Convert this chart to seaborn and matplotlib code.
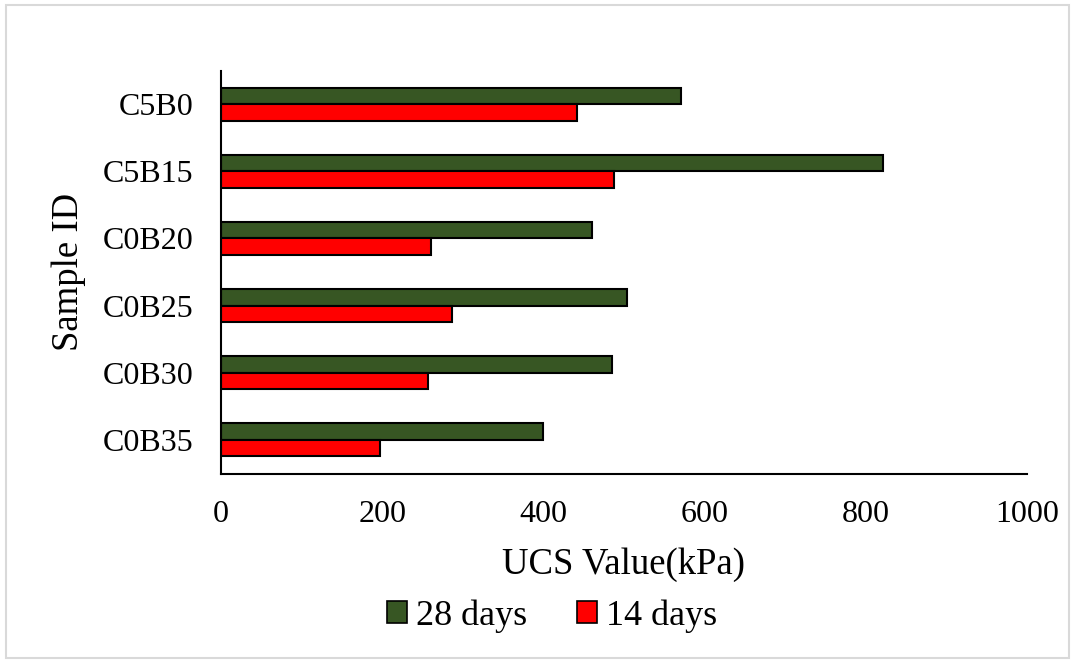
import matplotlib
matplotlib.use("Agg")
import matplotlib.pyplot as plt
from matplotlib.patches import Rectangle, Patch
import seaborn as sns
import pandas as pd

samples = ["C5B0", "C5B15", "C0B20", "C0B25", "C0B30", "C0B35"]
ucs_28 = [571, 821, 460, 504, 485, 400]
ucs_14 = [442, 487, 260, 286, 257, 197]
series = ["28 days", "14 days"]
colors = ["#375623", "#ff0000"]
x_ticks = [0, 200, 400, 600, 800, 1000]

df = pd.DataFrame({
    "Sample ID": samples * 2,
    "UCS": ucs_28 + ucs_14,
    "Age": [series[0]] * len(samples) + [series[1]] * len(samples),
})

sns.set_theme(style="white")
plt.rcParams["font.family"] = ["Liberation Serif", "DejaVu Serif"]
plt.rcParams["text.color"] = "black"
plt.rcParams["axes.labelcolor"] = "black"

fig = plt.figure(figsize=(10.72, 6.6), dpi=100)
ax = fig.add_axes([221 / 1072, 1 - 473.5 / 660, (1027 - 221) / 1072, (473.5 - 70.5) / 660])

sns.barplot(data=df, y="Sample ID", x="UCS", hue="Age", hue_order=series,
            palette=colors, saturation=1, order=samples, orient="h", width=0.49,
            edgecolor="black", linewidth=1.5, ax=ax, legend=False)

ax.set_xlim(0, 1000)
ax.set_xticks(x_ticks)
ax.set_xticklabels([str(t) for t in x_ticks])
ax.tick_params(axis="x", length=0, pad=19, labelsize=23, colors="black")
ax.tick_params(axis="y", length=0, pad=20, labelsize=23, colors="black")
ax.set_xlabel("UCS Value(kPa)", fontsize=26.5, color="black", labelpad=13)
ax.set_ylabel("Sample ID", fontsize=26.5, color="black", labelpad=12)

for side in ["top", "right"]:
    ax.spines[side].set_visible(False)
for side in ["left", "bottom"]:
    ax.spines[side].set_color("black")
    ax.spines[side].set_linewidth(1.5)

handles = [Patch(facecolor=c, edgecolor="black", linewidth=1.2, label=s)
           for c, s in zip(colors, series)]
fig.legend(handles=handles, loc="center", bbox_to_anchor=(552 / 1072, 1 - 616 / 660),
           ncol=2, frameon=False, fontsize=26, handlelength=0.55, handleheight=0.55,
           handletextpad=0.25, columnspacing=1.4)

fig.patches.append(Rectangle((6 / 1072, 2 / 660), 1063 / 1072, 653 / 660,
                             transform=fig.transFigure, fill=False,
                             edgecolor="#d9d9d9", linewidth=1.5))

fig.savefig("out.png", dpi=100)
